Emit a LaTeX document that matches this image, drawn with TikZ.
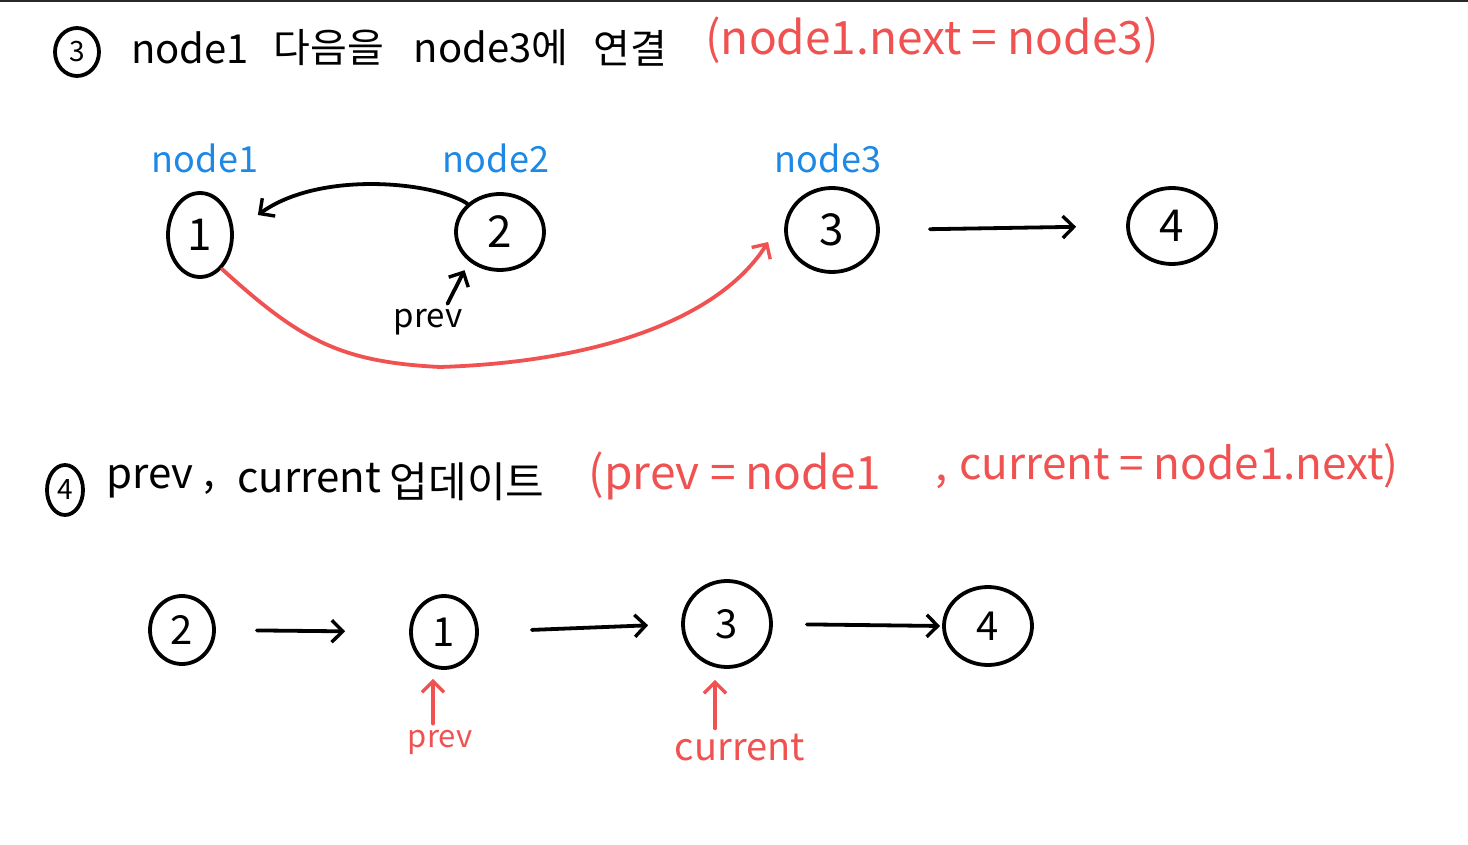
\documentclass[tikz,border=0pt]{standalone}
\usepackage{fontspec}
\setmainfont{Noto Sans CJK KR}
\usetikzlibrary{shapes.geometric,arrows.meta}
\definecolor{penred}{RGB}{240,82,82}
\definecolor{penblue}{RGB}{30,136,229}
\definecolor{barcol}{RGB}{40,40,40}
\tikzset{
  pen/.style={line width=3.8pt, line cap=round, line join=round},
  arr/.style={pen, -{Straight Barb[length=11pt,width=22pt,line width=3.4pt]}},
  nodeel/.style={ellipse, draw, pen, inner sep=0pt, font=\fontsize{44}{48}\selectfont},
  nodeelb/.style={nodeel, font=\fontsize{40}{44}\selectfont},
  heading/.style={anchor=center, inner sep=0pt, font=\fontsize{40}{44}\selectfont},
  headingb/.style={heading, font=\fontsize{42}{46}\selectfont},
  redtext/.style={anchor=center, inner sep=0pt, text=penred, font=\fontsize{46}{50}\selectfont},
  redtextb/.style={redtext, font=\fontsize{44}{48}\selectfont},
  bluelabel/.style={anchor=center, inner sep=0pt, text=penblue, font=\fontsize{36}{40}\selectfont},
  smalllabel/.style={anchor=center, inner sep=0pt, font=\fontsize{33}{36}\selectfont},
  numcircle/.style={ellipse, draw, pen, inner sep=0pt, font=\fontsize{28}{30}\selectfont},
}
\begin{document}
\begin{tikzpicture}[x=1pt,y=-1pt]
\useasboundingbox (0,0) rectangle (1468,845);
\fill[white] (0,0) rectangle (1468,845);
\fill[barcol] (0,0) rectangle (1468,2.5);

% ---------- heading 3 ----------
\node[numcircle, minimum width=44pt, minimum height=48pt] (c3) at (77,52) {3};
\node[heading] (h1a) at (190,48) {node1};
\node[heading] (h1b) at (329,48) {다음을};
\node[heading] (h1c) at (491,48) {node3에};
\node[heading] (h1d) at (630,48) {연결};
\node[redtext] (h1e) at (932,40) {(node1.next = node3)};

% ---------- section 1 ----------
\node[nodeel, minimum width=64pt, minimum height=84pt] (n1) at (200,235) {1};
\node[nodeel, minimum width=88pt, minimum height=76pt] (n2) at (500,232) {2};
\node[nodeel, minimum width=92pt, minimum height=84pt] (n3) at (832,230) {3};
\node[nodeel, minimum width=88pt, minimum height=76pt] (n4) at (1172,226) {4};

\node[bluelabel] (l1) at (205,158) {node1};
\node[bluelabel] (l2) at (496,158) {node2};
\node[bluelabel] (l3) at (828,158) {node3};

\node[smalllabel] (p1) at (428,322) {prev};

\draw[arr] (n2.north west) .. controls (435,182) and (320,170) .. ([xshift=24pt,yshift=20pt]n1.east);
\draw[arr] ([xshift=-15pt,yshift=5pt]p1.north east) -- ([xshift=-3pt,yshift=-10pt]n2.south west);
\draw[arr, penred] ([xshift=-2pt,yshift=-3pt]n1.south east) .. controls (300,340) and (340,362) .. (440,367)
      .. controls (600,362) and (720,318) .. ([xshift=-16pt,yshift=-12pt]n3.west);
\draw[arr, shorten <=50pt, shorten >=50pt] (n3.east) -- (n4.west);

% ---------- heading 4 ----------
\node[numcircle, minimum width=36pt, minimum height=50pt] (c4) at (65,490) {4};
\node[headingb] (h2a) at (150,482) {prev};
\node[headingb] (h2b) at (209,488) {,};
\node[headingb] (h2c) at (309,478) {current};
\node[headingb] (h2d) at (467,482) {업데이트};
\node[redtext] (h2e) at (735,476) {(prev = node1};
\node[redtextb] (h2f) at (942,482) {,};
\node[redtextb] (h2g) at (1179,466) {current = node1.next)};

% ---------- section 2 ----------
\node[nodeelb, minimum width=64pt, minimum height=68pt] (m2) at (182,630) {2};
\node[nodeelb, minimum width=66pt, minimum height=72pt] (m1) at (444,632) {1};
\node[nodeelb, minimum width=88pt, minimum height=86pt] (m3) at (727,624) {3};
\node[nodeelb, minimum width=88pt, minimum height=78pt] (m4) at (988,626) {4};

\draw[arr, shorten <=41pt, shorten >=64pt] (m2.east) -- (m1.west);
\draw[arr, shorten <=53pt, shorten >=33pt] (m1.east) -- (m3.west);
\draw[arr, shorten <=34pt, shorten >=2pt] (m3.east) -- (m4.west);

\node[smalllabel, text=penred, font=\fontsize{31}{34}\selectfont] (q1) at (440,742) {prev};
\node[smalllabel, text=penred, font=\fontsize{38}{42}\selectfont] (q2) at (740,748) {current};
\draw[arr, penred] ([xshift=-7pt,yshift=6pt]q1.north) -- ([xshift=-11pt,yshift=-9pt]m1.south);
\draw[arr, penred] ([xshift=-25pt,yshift=6pt]q2.north) -- ([xshift=-12pt,yshift=-11pt]m3.south);
\end{tikzpicture}
\end{document}
